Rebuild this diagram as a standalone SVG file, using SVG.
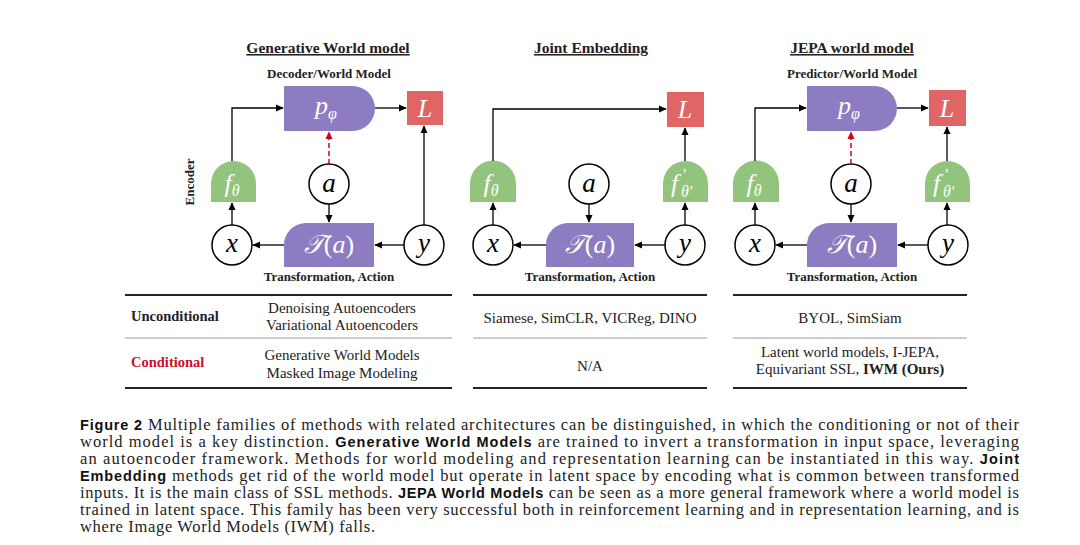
<svg xmlns="http://www.w3.org/2000/svg" width="1080" height="545" viewBox="0 0 1080 545">
<defs>
<marker id="ah" viewBox="0 0 10 10" refX="9" refY="5" markerWidth="8" markerHeight="8" markerUnits="userSpaceOnUse" orient="auto"><path d="M0,0.5 L10,5 L0,9.5 Z" fill="#000"/></marker>
<marker id="ahr" viewBox="0 0 10 10" refX="9" refY="5" markerWidth="8" markerHeight="8" markerUnits="userSpaceOnUse" orient="auto"><path d="M0,0.5 L10,5 L0,9.5 Z" fill="#d0021b"/></marker>
<style>
.t{font-family:"Liberation Serif","Times New Roman",serif;font-weight:bold;fill:#222}
.title{font-size:15.5px;text-decoration:underline;text-anchor:middle}
.sub{font-size:13px;text-anchor:middle}
.purple{fill:#8e7cc3}
.green{fill:#93c47d}
.red{fill:#e06666}
.circ{fill:#fff;stroke:#000;stroke-width:1.5}
.m{font-family:"Liberation Serif","DejaVu Serif",serif;font-style:italic;text-anchor:middle}
.ml{font-family:"Liberation Serif","DejaVu Serif",serif;font-style:italic}
.mw{fill:#fff;font-size:26px}
.mb{fill:#000;font-size:27px}
.c{fill:none;stroke:#000;stroke-width:1.3}
.cr{fill:none;stroke:#d0021b;stroke-width:1.5;stroke-dasharray:5 3}
.tab{font-family:"Liberation Serif","Times New Roman",serif;font-size:15px;fill:#222;text-anchor:middle}
.cap{font-family:"Liberation Serif","Times New Roman",serif;font-size:16.5px;fill:#222}
.b{font-family:"Liberation Sans",Arial,sans-serif;font-weight:bold;font-size:14.5px;fill:#111}
</style>
</defs>
<rect width="1080" height="545" fill="#fff"/>

<!-- Titles -->
<text class="t title" x="328" y="53">Generative World model</text>
<text class="t title" x="591" y="53">Joint Embedding</text>
<text class="t title" x="852" y="53">JEPA world model</text>
<text class="t sub" x="329" y="78">Decoder/World Model</text>
<text class="t sub" x="852" y="78">Predictor/World Model</text>
<text class="t sub" x="0" y="0" transform="translate(194,182) rotate(-90)">Encoder</text>
<text class="t sub" x="329" y="281">Transformation, Action</text>
<text class="t sub" x="590" y="281">Transformation, Action</text>
<text class="t sub" x="852" y="281">Transformation, Action</text>

<!-- Panel 1 nodes -->
<g id="gen-p">
<path class="purple" d="M284,86 H352.5 A22.5,22.5 0 0 1 352.5,131 H284 Z"/>
<text class="m mw" x="326" y="114">p<tspan font-size="16" dy="5">φ</tspan></text>
</g>
<g id="gen-L"><rect class="red" x="407" y="91" width="36" height="34"/><text class="m mw" x="425" y="117">L</text></g>
<g id="gen-f">
<path class="green" d="M211,202 V183.5 A22.5,22.5 0 0 1 256,183.5 V202 Z"/>
<text class="m mw" x="232" y="192">f<tspan font-size="16" dy="4">θ</tspan></text>
</g>
<g id="gen-a"><circle class="circ" cx="329" cy="184" r="20"/><text class="m mb" x="329" y="192">a</text></g>
<g id="gen-x"><circle class="circ" cx="232" cy="245" r="20"/><text class="m mb" x="232" y="252">x</text></g>
<g id="gen-T">
<path class="purple" d="M284,267 V245 A22,22 0 0 1 306,223 H374 V267 Z"/>
<text class="m mw" x="329" y="253"><tspan>𝒯</tspan><tspan font-style="normal">(</tspan>a<tspan font-style="normal">)</tspan></text>
</g>
<g id="gen-y"><circle class="circ" cx="424" cy="245" r="20"/><text class="m mb" x="424" y="252">y</text></g>

<!-- Panel 2 nodes -->
<g id="je-L"><rect class="red" x="667" y="92" width="37" height="35"/><text class="m mw" x="685" y="118">L</text></g>
<g id="je-f">
<path class="green" d="M470,202 V183.5 A23,23 0 0 1 516,183.5 V202 Z"/>
<text class="m mw" x="491" y="192">f<tspan font-size="16" dy="4">θ</tspan></text>
</g>
<g id="je-fp">
<path class="green" d="M663,202 V183.5 A22.5,22.5 0 0 1 708,183.5 V202 Z"/>
<text class="ml mw" x="671" y="192">f<tspan font-size="17" x="682" y="180">′</tspan><tspan font-size="16" x="681" y="197">θ′</tspan></text>
</g>
<g id="je-a"><circle class="circ" cx="589" cy="184" r="20"/><text class="m mb" x="589" y="192">a</text></g>
<g id="je-x"><circle class="circ" cx="493" cy="245" r="20"/><text class="m mb" x="493" y="252">x</text></g>
<g id="je-T">
<path class="purple" d="M546,267 V245 A22,22 0 0 1 568,223 H634 V267 Z"/>
<text class="m mw" x="590" y="253"><tspan>𝒯</tspan><tspan font-style="normal">(</tspan>a<tspan font-style="normal">)</tspan></text>
</g>
<g id="je-y"><circle class="circ" cx="685" cy="245" r="20"/><text class="m mb" x="685" y="252">y</text></g>

<!-- Panel 3 nodes -->
<g id="jepa-p">
<path class="purple" d="M807,86 H874.5 A22.5,22.5 0 0 1 874.5,131 H807 Z"/>
<text class="m mw" x="849" y="114">p<tspan font-size="16" dy="5">φ</tspan></text>
</g>
<g id="jepa-L"><rect class="red" x="929" y="90" width="37" height="36"/><text class="m mw" x="947" y="117">L</text></g>
<g id="jepa-f">
<path class="green" d="M733,202 V183.5 A23,23 0 0 1 779,183.5 V202 Z"/>
<text class="m mw" x="754" y="192">f<tspan font-size="16" dy="4">θ</tspan></text>
</g>
<g id="jepa-fp">
<path class="green" d="M925,202 V183.5 A22.5,22.5 0 0 1 970,183.5 V202 Z"/>
<text class="ml mw" x="933" y="192">f<tspan font-size="17" x="944" y="180">′</tspan><tspan font-size="16" x="943" y="197">θ′</tspan></text>
</g>
<g id="jepa-a"><circle class="circ" cx="851" cy="184" r="20"/><text class="m mb" x="851" y="192">a</text></g>
<g id="jepa-x"><circle class="circ" cx="755" cy="245" r="20"/><text class="m mb" x="755" y="252">x</text></g>
<g id="jepa-T">
<path class="purple" d="M807,267 V245 A22,22 0 0 1 829,223 H897 V267 Z"/>
<text class="m mw" x="852" y="253"><tspan>𝒯</tspan><tspan font-style="normal">(</tspan>a<tspan font-style="normal">)</tspan></text>
</g>
<g id="jepa-y"><circle class="circ" cx="948" cy="245" r="20"/><text class="m mb" x="948" y="252">y</text></g>

<!-- Connectors -->
<g id="connectors">
<path class="c" marker-end="url(#ah)" d="M232,225 V203"/>
<path class="c" marker-end="url(#ah)" d="M232,161 V108 H283"/>
<path class="c" marker-end="url(#ah)" d="M375,108 H406"/>
<path class="c" marker-end="url(#ah)" d="M424,225 V126"/>
<path class="cr" marker-end="url(#ahr)" d="M329,164 V132"/>
<path class="c" marker-end="url(#ah)" d="M329,204 V222"/>
<path class="c" marker-end="url(#ah)" d="M284,245 H253"/>
<path class="c" marker-end="url(#ah)" d="M404,245 H375"/>

<path class="c" marker-end="url(#ah)" d="M493,225 V203"/>
<path class="c" marker-end="url(#ah)" d="M493,161 V109 H666"/>
<path class="c" marker-end="url(#ah)" d="M685,161 V128"/>
<path class="c" marker-end="url(#ah)" d="M685,225 V203"/>
<path class="c" marker-end="url(#ah)" d="M589,204 V222"/>
<path class="c" marker-end="url(#ah)" d="M546,245 H514"/>
<path class="c" marker-end="url(#ah)" d="M665,245 H635"/>

<path class="c" marker-end="url(#ah)" d="M755,225 V203"/>
<path class="c" marker-end="url(#ah)" d="M755,161 V108 H806"/>
<path class="c" marker-end="url(#ah)" d="M897,108 H928"/>
<path class="c" marker-end="url(#ah)" d="M947,161 V127"/>
<path class="c" marker-end="url(#ah)" d="M947,225 V203"/>
<path class="cr" marker-end="url(#ahr)" d="M851,164 V132"/>
<path class="c" marker-end="url(#ah)" d="M851,204 V222"/>
<path class="c" marker-end="url(#ah)" d="M807,245 H776"/>
<path class="c" marker-end="url(#ah)" d="M928,245 H898"/>
</g>

<!-- Table -->
<g id="table">
<g stroke="#222" stroke-width="2">
<line x1="125" y1="295" x2="452" y2="295"/><line x1="473" y1="295" x2="707" y2="295"/><line x1="733" y1="295" x2="967" y2="295"/>
<line x1="125" y1="388" x2="452" y2="388"/><line x1="473" y1="388" x2="707" y2="388"/><line x1="733" y1="388" x2="967" y2="388"/>
</g>
<g stroke="#999" stroke-width="1.2">
<line x1="125" y1="338" x2="452" y2="338"/><line x1="473" y1="338" x2="707" y2="338"/><line x1="733" y1="338" x2="967" y2="338"/>
</g>
<text class="t" x="131" y="321" font-size="14.5">Unconditional</text>
<text class="t" x="131" y="367" font-size="14.5" style="fill:#c8102e">Conditional</text>
<text class="tab" x="342" y="313">Denoising Autoencoders</text>
<text class="tab" x="342" y="330">Variational Autoencoders</text>
<text class="tab" x="342" y="360">Generative World Models</text>
<text class="tab" x="342" y="378">Masked Image Modeling</text>
<text class="tab" x="590" y="323">Siamese, SimCLR, VICReg, DINO</text>
<text class="tab" x="590" y="371">N/A</text>
<text class="tab" x="850" y="323">BYOL, SimSiam</text>
<text class="tab" x="850" y="357">Latent world models, I-JEPA,</text>
<text class="tab" x="850" y="374">Equivariant SSL, <tspan font-weight="bold">IWM (Ours)</tspan></text>
</g>

<!-- Caption -->
<g id="caption">
<text class="cap" x="80" y="430" textLength="939" lengthAdjust="spacing"><tspan class="b">Figure 2</tspan>  Multiple families of methods with related architectures can be distinguished, in which the conditioning or not of their</text>
<text class="cap" x="80" y="447" textLength="939" lengthAdjust="spacing">world model is a key distinction. <tspan class="b">Generative World Models</tspan> are trained to invert a transformation in input space, leveraging</text>
<text class="cap" x="80" y="464" textLength="939" lengthAdjust="spacing">an autoencoder framework. Methods for world modeling and representation learning can be instantiated in this way. <tspan class="b">Joint</tspan></text>
<text class="cap" x="80" y="481" textLength="939" lengthAdjust="spacing"><tspan class="b">Embedding</tspan> methods get rid of the world model but operate in latent space by encoding what is common between transformed</text>
<text class="cap" x="80" y="498" textLength="939" lengthAdjust="spacing">inputs. It is the main class of SSL methods. <tspan class="b">JEPA World Models</tspan> can be seen as a more general framework where a world model is</text>
<text class="cap" x="80" y="515" textLength="939" lengthAdjust="spacing">trained in latent space. This family has been very successful both in reinforcement learning and in representation learning, and is</text>
<text class="cap" x="80" y="532" textLength="295" lengthAdjust="spacing">where Image World Models (IWM) falls.</text>
</g>
</svg>
